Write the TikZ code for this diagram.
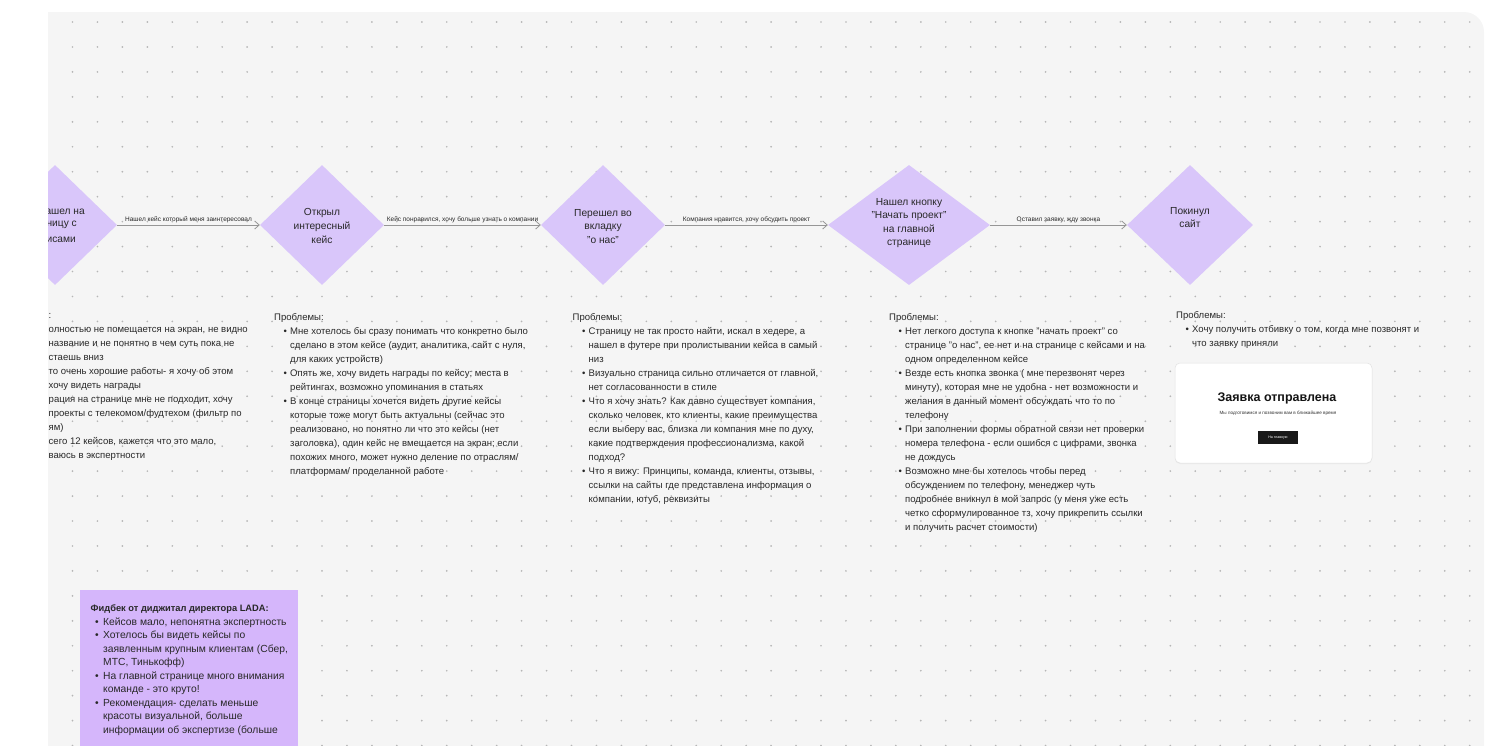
\documentclass[tikz,border=0pt]{standalone}
\usepackage{fontspec}
\setmainfont{Liberation Sans}
\usetikzlibrary{arrows.meta,shapes.geometric,shadows}
\definecolor{panel}{RGB}{245,245,245}
\definecolor{dotc}{RGB}{182,182,182}
\definecolor{diam}{RGB}{217,198,250}
\definecolor{notec}{RGB}{213,182,251}
\definecolor{txt}{RGB}{40,40,40}
\definecolor{arrc}{RGB}{150,150,150}
\definecolor{cardline}{RGB}{226,226,226}
\definecolor{btn}{RGB}{25,25,25}
\definecolor{ctitlec}{RGB}{20,20,20}
\definecolor{csubc}{RGB}{50,50,50}
\newcommand\myb{\hspace*{9.5pt}\makebox[6.5pt][l]{•}}
\newcommand\myc{\hspace*{16pt}}
\newcommand\nb{\hspace*{4.5pt}\makebox[8pt][l]{•}}
\newcommand\nc{\hspace*{12.5pt}}
\begin{document}
\begin{tikzpicture}[x=1pt,y=-1pt,
  diamondbox/.style={diamond, fill=diam, draw=none, minimum width=124pt, minimum height=120pt, inner sep=0pt},
  dtext/.style={align=center, inner sep=0pt, text=txt, font=\fontsize{10.2}{13.6}\selectfont},
  arr/.style={draw=arrc, line width=0.8pt, -{Straight Barb[length=4.5pt,width=8pt]}},
  lbl/.style={midway, above, inner sep=1.5pt, text=txt, font=\fontsize{6.5}{8}\selectfont},
  block/.style={anchor=north west, align=left, inner sep=0pt, text=txt, font=\fontsize{9.55}{14}\selectfont},
  notetext/.style={anchor=north west, align=left, inner sep=0pt, text=txt, font=\fontsize{10.3}{13.5}\selectfont},
]
\useasboundingbox (0,0) rectangle (1492,745);
\begin{scope}
\clip (0,0) rectangle (1492,745);
% panel
\fill[panel, rounded corners=20pt] (48,12) rectangle (1484,780);
\fill[panel] (48,12) rectangle (120,120);
% dot grid
\foreach \i in {0,...,56}{
  \foreach \j in {0,...,29}{
    \fill[dotc] (72.5+24.95*\i, 22+24.95*\j) circle (0.95pt);
  }
}
\begin{scope}
\clip (48,12) rectangle (1492,745);
% diamonds
\node[diamondbox] (d1) at (55,225) {};
\node[diamondbox] (d2) at (322,225) {};
\node[diamondbox] (d3) at (603,225) {};
\node[diamondbox, minimum width=162pt] (d4) at (909,225) {};
\node[diamondbox, minimum width=126pt] (d5) at (1190,225) {};
% diamond texts
\node[dtext, anchor=east] (t1a) at (85,211.7) {ашел на};
\node[dtext, anchor=east] (t1b) at (77,225) {ницу с};
\node[dtext, anchor=east] (t1c) at (76,240) {исами};
\node[dtext] (t2) at (322,226) {Открыл\\интересный\\кейс};
\node[dtext] (t3) at (603,226.5) {Перешел во\\вкладку\\"о нас"};
\node[dtext] (t4) at (909,223) {Нашел кнопку\\"Начать проект"\\на главной\\странице};
\node[dtext] (t5) at (1190,217.5) {Покинул\\сайт};
% connectors
\draw[arr] (d1.east) -- node[lbl]{Нашел кейс который меня заинтересовал} (d2.west);
\draw[arr] (d2.east) -- node[lbl]{Кейс понравился, хочу больше узнать о компании} (d3.west);
\draw[arr] (d3.east) -- node[lbl]{Компания нравится, хочу обсудить проект} (d4.west);
\draw[arr] (d4.east) -- node[lbl]{Оставил заявку, жду звонка} (d5.west);
% problem blocks
\node[block] (b1) at (48.5,313) {:\\
олностью не помещается на экран, не видно\\
название и не понятно в чем суть пока не\\
стаешь вниз\\
то очень хорошие работы- я хочу об этом\\
хочу видеть награды\\
рация на странице мне не подходит, хочу\\
проекты с телекомом/фудтехом (фильтр по\\
ям)\\
сего 12 кейсов, кажется что это мало,\\
ваюсь в экспертности};
\node[block] (b2) at (274,313) {Проблемы:\\
\myb Мне хотелось бы сразу понимать что конкретно было\\
\myc сделано в этом кейсе (аудит, аналитика, сайт с нуля,\\
\myc для каких устройств)\\
\myb Опять же, хочу видеть награды по кейсу; места в\\
\myc рейтингах, возможно упоминания в статьях\\
\myb В конце страницы хочется видеть другие кейсы\\
\myc которые тоже могут быть актуальны (сейчас это\\
\myc реализовано, но понятно ли что это кейсы (нет\\
\myc заголовка), один кейс не вмещается на экран; если\\
\myc похожих много, может нужно деление по отраслям/\\
\myc платформам/ проделанной работе};
\node[block] (b3) at (572.5,313) {Проблемы:\\
\myb Страницу не так просто найти, искал в хедере, а\\
\myc нашел в футере при пролистывании кейса в самый\\
\myc низ\\
\myb Визуально страница сильно отличается от главной,\\
\myc нет согласованности в стиле\\
\myb Что я хочу знать? Как давно существует компания,\\
\myc сколько человек, кто клиенты, какие преимущества\\
\myc если выберу вас, близка ли компания мне по духу,\\
\myc какие подтверждения профессионализма, какой\\
\myc подход?\\
\myb Что я вижу: Принципы, команда, клиенты, отзывы,\\
\myc ссылки на сайты где представлена информация о\\
\myc компании, ютуб, реквизиты};
\node[block] (b4) at (889,313) {Проблемы:\\
\myb Нет легкого доступа к кнопке "начать проект" со\\
\myc странице "о нас", ее нет и на странице с кейсами и на\\
\myc одном определенном кейсе\\
\myb Везде есть кнопка звонка ( мне перезвонят через\\
\myc минуту), которая мне не удобна - нет возможности и\\
\myc желания в данный момент обсуждать что то по\\
\myc телефону\\
\myb При заполнении формы обратной связи нет проверки\\
\myc номера телефона - если ошибся с цифрами, звонка\\
\myc не дождусь\\
\myb Возможно мне бы хотелось чтобы перед\\
\myc обсуждением по телефону, менеджер чуть\\
\myc подробнее вникнул в мой запрос (у меня уже есть\\
\myc четко сформулированное тз, хочу прикрепить ссылки\\
\myc и получить расчет стоимости)};
\node[block] (b5) at (1176,311) {Проблемы:\\
\myb Хочу получить отбивку о том, когда мне позвонят и\\
\myc что заявку приняли};
% confirmation card
\node[fill=white, draw=cardline, line width=0.5pt, rounded corners=5pt, minimum width=197pt, minimum height=100pt, inner sep=0pt,
  drop shadow={shadow xshift=0pt, shadow yshift=-1pt, opacity=0.08}] (card) at (1273.5,413) {};
\node[inner sep=0pt, text=ctitlec, font=\bfseries\fontsize{12.5}{14}\selectfont] (ctitle) at (1277,398) {Заявка отправлена};
\node[inner sep=0pt, text=csubc, font=\fontsize{4.6}{5}\selectfont] (csub) at (1278,413) {Мы подготовимся и позвоним вам в ближайшее время};
\node[fill=btn, minimum width=40pt, minimum height=13pt, inner sep=0pt, text=white, font=\fontsize{3.6}{4}\selectfont] (cbtn) at (1278,437.5) {На главную};
% feedback note
\node[fill=notec, minimum width=218pt, minimum height=170pt, anchor=north west, inner sep=0pt] (note) at (80,590) {};
\node[notetext] (ntext) at (90.5,604.5) {{\bfseries\fontsize{9.3}{13.5}\selectfont Фидбек от диджитал директора LADA:}\\
\nb Кейсов мало, непонятна экспертность\\
\nb Хотелось бы видеть кейсы по\\
\nc заявленным крупным клиентам (Сбер,\\
\nc МТС, Тинькофф)\\
\nb На главной странице много внимания\\
\nc команде - это круто!\\
\nb Рекомендация- сделать меньше\\
\nc красоты визуальной, больше\\
\nc информации об экспертизе (больше};
\end{scope}
\end{scope}
\end{tikzpicture}
\end{document}
